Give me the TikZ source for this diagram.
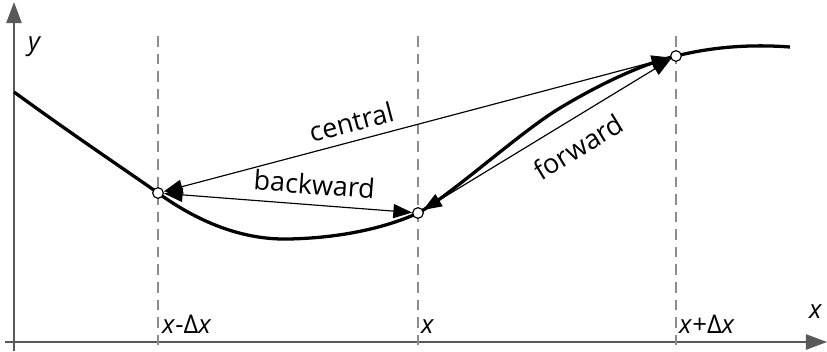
\documentclass[tikz,border=0pt]{standalone}
\usepackage{fontspec}
\setmainfont{Open Sans}
\usetikzlibrary{arrows.meta}

\begin{document}
\begin{tikzpicture}[x=0.03cm, y=-0.03cm,
  pt/.style={circle, draw=black, fill=white, line width=1pt, inner sep=0pt, minimum size=0.32cm},
  axis/.style={draw=black!65, line width=1.6pt, -{Triangle[length=18pt,width=13pt]}},
  guide/.style={draw=black!45, line width=1pt, dash pattern=on 9pt off 6pt},
  arr/.style={{Triangle[length=16pt,width=12pt]}-{Triangle[length=16pt,width=12pt]}, line width=1pt},
  lbl/.style={font=\fontsize{23}{27}\selectfont, sloped},
  ax/.style={font=\fontsize{22}{26}\selectfont, anchor=base west, inner sep=0pt}]
\useasboundingbox (0,0) rectangle (827,351);
% axes
\coordinate (o1) at (14,351); \coordinate (ytop) at (14,2);
\coordinate (o2) at (5,342); \coordinate (xend) at (827,342);
\draw[axis] (o1) -- (ytop);
\draw[axis] (o2) -- (xend);
\node[ax, anchor=center] (ylab) at (34,47) {\itshape y};
\node[ax] (xlab) at (809,318) {\itshape x};
% guides
\coordinate (xm) at (158,193); \coordinate (x0) at (418,213); \coordinate (xp) at (676,56);
\foreach \n/\xx in {m/158, 0/418, p/676}
  \draw[guide] (\xx,36) coordinate (t\n) -- (\xx,351) coordinate (b\n);
\node[ax] (lm) at (162,333) {\textit{x}-Δ\textit{x}};
\node[ax] (l0) at (421,333) {\textit{x}};
\node[ax] (lp) at (679,333) {\textit{x}+Δ\textit{x}};
% function
\coordinate (fs) at (14,92); \coordinate (fe) at (790,47);
\draw[line width=2.8pt] (fs) .. controls (80,140) and (130,173) .. (xm)
  .. controls (190,216) and (235,240) .. (288,239)
  .. controls (345,238) and (390,226) .. (x0)
  .. controls (450,196) and (520,132) .. (560,108)
  .. controls (610,78) and (650,62) .. (xp)
  .. controls (712,47) and (750,44) .. (fe);
% points
\node[pt] (pm) at (xm) {};
\node[pt] (p0) at (x0) {};
\node[pt] (pp) at (xp) {};
% differences
\draw[arr] (pm) -- node[lbl, above=4pt, pos=0.38] {central} (pp);
\draw[arr] (pm) -- node[lbl, above=5pt, pos=0.6] {backward} (p0);
\draw[arr] (p0) -- node[lbl, below=10pt, pos=0.57] {forward} (pp);
\end{tikzpicture}
\end{document}
